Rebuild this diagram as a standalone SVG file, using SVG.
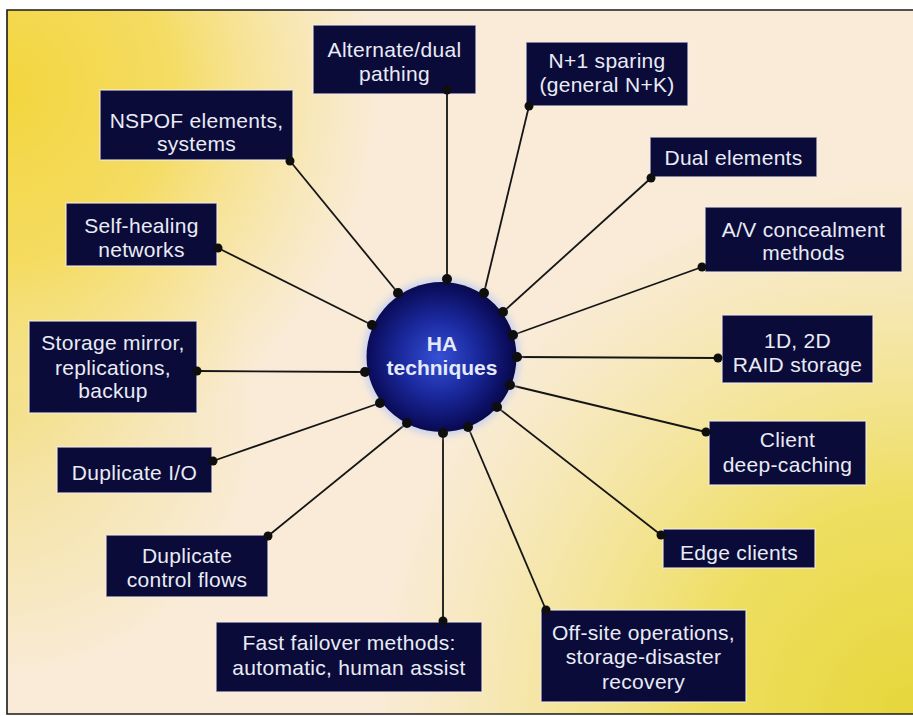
<svg xmlns="http://www.w3.org/2000/svg" width="913" height="716" viewBox="0 0 913 716">
<defs>
<radialGradient id="ylTL" cx="0" cy="90" r="380" gradientUnits="userSpaceOnUse">
<stop offset="0" stop-color="#f3d53c" stop-opacity="1"/>
<stop offset="0.45" stop-color="#f4d94e" stop-opacity="0.85"/>
<stop offset="1" stop-color="#f6e27a" stop-opacity="0"/>
</radialGradient>
<radialGradient id="ylBR" cx="913" cy="716" r="540" gradientUnits="userSpaceOnUse">
<stop offset="0" stop-color="#e6d63a" stop-opacity="1"/>
<stop offset="0.4" stop-color="#ecdc4c" stop-opacity="0.85"/>
<stop offset="1" stop-color="#f2e27a" stop-opacity="0"/>
</radialGradient>
<radialGradient id="ylL" cx="0" cy="420" r="260" gradientUnits="userSpaceOnUse">
<stop offset="0" stop-color="#f2df8a" stop-opacity="0.9"/>
<stop offset="1" stop-color="#f2df8a" stop-opacity="0"/>
</radialGradient>
<radialGradient id="ball" cx="0.48" cy="0.5" r="0.55">
<stop offset="0" stop-color="#3650d4"/>
<stop offset="0.45" stop-color="#1b2aa0"/>
<stop offset="0.85" stop-color="#0b0d5c"/>
<stop offset="1" stop-color="#060634"/>
</radialGradient>
<filter id="glow" x="-20%" y="-20%" width="140%" height="140%">
<feGaussianBlur stdDeviation="3"/>
</filter>
</defs>
<style>
.box{fill:#0b0b3a;stroke:#f3eef0;stroke-width:1.5;stroke-opacity:0.7}
.lbl{font-family:"Liberation Sans",Arial,sans-serif;font-size:21px;fill:#e9ebf5;text-anchor:middle;letter-spacing:0.3px}
.hub{font-family:"Liberation Sans",Arial,sans-serif;font-size:21px;font-weight:bold;fill:#e4e9fb;text-anchor:middle}
.con line{stroke:#151515;stroke-width:1.8}
.con circle{fill:#0e0e0e}
</style>
<rect x="0" y="0" width="913" height="716" fill="#ffffff"/>
<rect x="7" y="10" width="906" height="704" fill="#f9ebd7"/>
<rect x="7" y="10" width="906" height="704" fill="url(#ylL)"/>
<rect x="7" y="10" width="906" height="704" fill="url(#ylTL)"/>
<rect x="7" y="10" width="906" height="704" fill="url(#ylBR)"/>
<path d="M913 10 H7 V714 H913" fill="none" stroke="#1a1a1a" stroke-width="1.6"/>

<g id="n-alternate">
<rect class="box" x="313" y="25" width="163" height="69"/>
<text class="lbl" x="394.5" y="57">Alternate/dual</text>
<text class="lbl" x="394.5" y="81">pathing</text>
</g>
<g id="n-sparing">
<rect class="box" x="526" y="42" width="162" height="64"/>
<text class="lbl" x="607" y="68">N+1 sparing</text>
<text class="lbl" x="607" y="92">(general N+K)</text>
</g>
<g id="n-nspof">
<rect class="box" x="100" y="90" width="193" height="70"/>
<text class="lbl" x="196.5" y="128">NSPOF elements,</text>
<text class="lbl" x="196.5" y="151">systems</text>
</g>
<g id="n-dual">
<rect class="box" x="650" y="137" width="167" height="40"/>
<text class="lbl" x="733.5" y="165">Dual elements</text>
</g>
<g id="n-selfheal">
<rect class="box" x="66" y="203" width="151" height="63"/>
<text class="lbl" x="141.5" y="233">Self-healing</text>
<text class="lbl" x="141.5" y="257">networks</text>
</g>
<g id="n-av">
<rect class="box" x="705" y="207" width="197" height="65"/>
<text class="lbl" x="803.5" y="237">A/V concealment</text>
<text class="lbl" x="803.5" y="260">methods</text>
</g>
<g id="n-storage">
<rect class="box" x="29" y="321" width="168" height="92"/>
<text class="lbl" x="113" y="350">Storage mirror,</text>
<text class="lbl" x="113" y="375">replications,</text>
<text class="lbl" x="113" y="398">backup</text>
</g>
<g id="n-raid">
<rect class="box" x="722" y="315" width="151" height="68"/>
<text class="lbl" x="797.5" y="348">1D, 2D</text>
<text class="lbl" x="797.5" y="372">RAID storage</text>
</g>
<g id="n-client">
<rect class="box" x="709" y="421" width="157" height="64"/>
<text class="lbl" x="787.5" y="447">Client</text>
<text class="lbl" x="787.5" y="472">deep-caching</text>
</g>
<g id="n-dupio">
<rect class="box" x="57" y="447" width="155" height="46"/>
<text class="lbl" x="134.5" y="480">Duplicate I/O</text>
</g>
<g id="n-edge">
<rect class="box" x="663" y="529" width="152" height="39"/>
<text class="lbl" x="739" y="560">Edge clients</text>
</g>
<g id="n-dupctl">
<rect class="box" x="106" y="535" width="162" height="62"/>
<text class="lbl" x="187" y="563">Duplicate</text>
<text class="lbl" x="187" y="587">control flows</text>
</g>
<g id="n-failover">
<rect class="box" x="216" y="622" width="266" height="70"/>
<text class="lbl" x="349" y="650">Fast failover methods:</text>
<text class="lbl" x="349" y="675">automatic, human assist</text>
</g>
<g id="n-offsite">
<rect class="box" x="541" y="610" width="205" height="92"/>
<text class="lbl" x="643.5" y="640">Off-site operations,</text>
<text class="lbl" x="643.5" y="664">storage-disaster</text>
<text class="lbl" x="643.5" y="689">recovery</text>
</g>

<g id="connectors" class="con">
<line x1="447" y1="90" x2="447" y2="279"/>
<line x1="290" y1="161" x2="398" y2="293"/>
<line x1="529" y1="106" x2="484" y2="293"/>
<line x1="651" y1="178" x2="503" y2="312"/>
<line x1="218" y1="248" x2="372" y2="325"/>
<line x1="702" y1="267" x2="513" y2="335"/>
<line x1="197" y1="371" x2="365" y2="372"/>
<line x1="718" y1="358" x2="517" y2="357"/>
<line x1="706" y1="432" x2="510" y2="385"/>
<line x1="213" y1="461" x2="380" y2="403"/>
<line x1="661" y1="535" x2="497" y2="407"/>
<line x1="268" y1="536" x2="407" y2="423"/>
<line x1="443" y1="621" x2="443" y2="433"/>
<line x1="546" y1="610" x2="468" y2="427"/>
<circle cx="447" cy="90" r="4.5"/>
<circle cx="290" cy="161" r="4.5"/>
<circle cx="529" cy="106" r="4.5"/>
<circle cx="651" cy="178" r="4.5"/>
<circle cx="218" cy="248" r="4.5"/>
<circle cx="702" cy="267" r="4.5"/>
<circle cx="197" cy="371" r="4.5"/>
<circle cx="718" cy="358" r="4.5"/>
<circle cx="706" cy="432" r="4.5"/>
<circle cx="213" cy="461" r="4.5"/>
<circle cx="661" cy="535" r="4.5"/>
<circle cx="268" cy="536" r="4.5"/>
<circle cx="443" cy="621" r="4.5"/>
<circle cx="546" cy="610" r="4.5"/>
</g>

<g id="hub">
<circle cx="441.5" cy="357" r="79" fill="#c4cff2" opacity="0.8" filter="url(#glow)"/>
<circle cx="441.5" cy="357" r="75" fill="url(#ball)"/>
<g class="con">
<circle cx="447" cy="279" r="5"/>
<circle cx="398" cy="293" r="5"/>
<circle cx="484" cy="293" r="5"/>
<circle cx="503" cy="312" r="5"/>
<circle cx="372" cy="325" r="5"/>
<circle cx="513" cy="335" r="5"/>
<circle cx="365" cy="372" r="5"/>
<circle cx="517" cy="357" r="5"/>
<circle cx="510" cy="385" r="5"/>
<circle cx="380" cy="403" r="5"/>
<circle cx="497" cy="407" r="5"/>
<circle cx="407" cy="423" r="5"/>
<circle cx="443" cy="433" r="5"/>
<circle cx="468" cy="427" r="5"/>
</g>
<text class="hub" x="442" y="351">HA</text>
<text class="hub" x="442" y="375">techniques</text>
</g>
</svg>
